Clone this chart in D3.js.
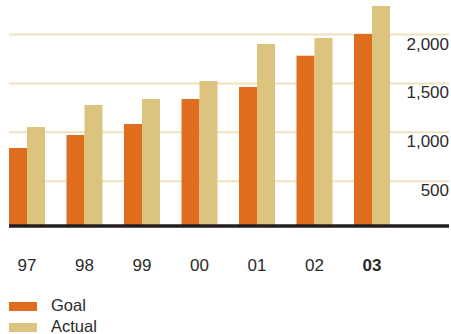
<!DOCTYPE html>
<html>
<head>
<meta charset="utf-8">
<script src="https://cdn.jsdelivr.net/npm/d3@7"></script>
<style>
  body { margin: 0; background: #fff; }
  text { font-family: "Liberation Sans", Arial, sans-serif; fill: #2b2b2b; }
</style>
</head>
<body>
<svg class="chart" width="451" height="334"></svg>
<script>
var years = ["97", "98", "99", "00", "01", "02", "03"];
var goal = [839, 972, 1084, 1340, 1463, 1783, 2005];
var actual = [1054, 1279, 1340, 1524, 1903, 1964, 2292];
var ticks = [500, 1000, 1500, 2000];
var seriesNames = ["Goal", "Actual"];
var colors = ["#e06d1d", "#dcc47f"];

var svg = d3.select(".chart"),
    left = 9,
    right = 449,
    baseY = 226;

var xScale = d3.scaleBand().domain(years).range([9, 390]).paddingInner(0.374).paddingOuter(0);
var xSub = d3.scaleBand().domain(seriesNames).range([0, xScale.bandwidth()]);
var yScale = d3.scaleLinear().domain([0, 2000]).range([230, 34.5]);

// gridlines
svg.append("g").selectAll("line")
    .data(ticks)
    .enter().append("line")
    .attr("x1", left)
    .attr("x2", right)
    .attr("y1", function(d) { return yScale(d); })
    .attr("y2", function(d) { return yScale(d); })
    .attr("stroke", "#f0e2bf")
    .attr("stroke-width", 2);

// tick labels
svg.append("g").selectAll("text")
    .data(ticks)
    .enter().append("text")
    .attr("x", right)
    .attr("y", function(d) { return yScale(d) + 15; })
    .attr("text-anchor", "end")
    .attr("font-size", 17)
    .text(function(d) { return d3.format(",")(d); });

// bars
var rows = years.map(function(y, i) { return { year: y, vals: [goal[i], actual[i]] }; });
var groups = svg.append("g").selectAll("g")
    .data(rows)
    .enter().append("g")
    .attr("transform", function(d) { return "translate(" + xScale(d.year) + ",0)"; });

groups.selectAll("rect")
    .data(function(d) { return d.vals.map(function(v, j) { return { name: seriesNames[j], value: v, i: j }; }); })
    .enter().append("rect")
    .attr("x", function(d) { return xSub(d.name); })
    .attr("y", function(d) { return yScale(d.value); })
    .attr("width", xSub.bandwidth())
    .attr("height", function(d) { return baseY - yScale(d.value); })
    .attr("fill", function(d) { return colors[d.i]; });

// baseline
svg.append("line")
    .attr("x1", left)
    .attr("x2", right)
    .attr("y1", baseY)
    .attr("y2", baseY)
    .attr("stroke", "#231f20")
    .attr("stroke-width", 3.5);

// year labels
svg.append("g").selectAll("text")
    .data(years)
    .enter().append("text")
    .attr("x", function(d) { return xScale(d) + xScale.bandwidth() / 2; })
    .attr("y", 271)
    .attr("text-anchor", "middle")
    .attr("font-size", 17)
    .attr("font-weight", function(d, i) { return i == years.length - 1 ? "bold" : "normal"; })
    .text(function(d) { return d; });

// legend
var legend = svg.append("g").selectAll("g")
    .data(seriesNames)
    .enter().append("g")
    .attr("transform", function(d, i) { return "translate(9," + (302 + i * 21) + ")"; });

legend.append("rect")
    .attr("width", 28)
    .attr("height", 9)
    .attr("fill", function(d, i) { return colors[i]; });

legend.append("text")
    .attr("x", 42)
    .attr("y", 8.5)
    .attr("font-size", 16.5)
    .text(function(d) { return d; });
</script>
</body>
</html>
